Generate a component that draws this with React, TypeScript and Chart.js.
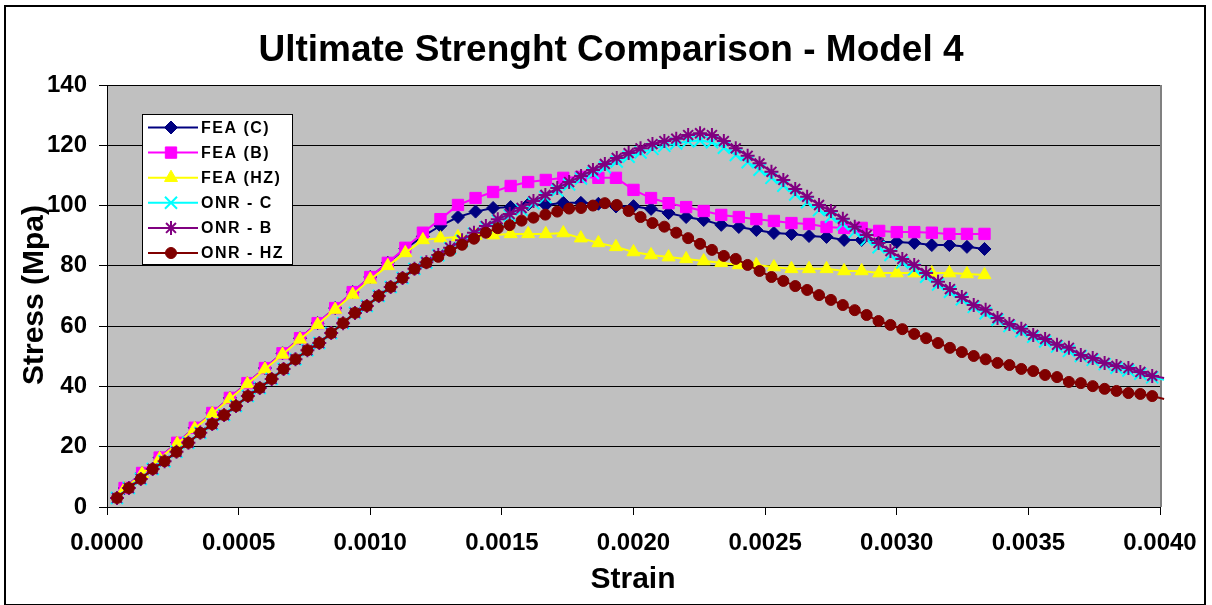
import React, { useEffect, useRef } from 'react';
import { Chart, registerables } from 'chart.js';
import { drawPoint } from 'chart.js/helpers';

Chart.register(...registerables);

const FONT = '"Liberation Sans", Arial, Helvetica, sans-serif';

const chartTitle = 'Ultimate Strenght Comparison - Model 4';
const xAxisTitle = 'Strain';
const yAxisTitle = 'Stress (Mpa)';

const xTickValues = [0, 0.0005, 0.001, 0.0015, 0.002, 0.0025, 0.003, 0.0035, 0.004];
const xTickLabels = ['0.0000', '0.0005', '0.0010', '0.0015', '0.0020', '0.0025', '0.0030', '0.0035', '0.0040'];
const yTickValues = [0, 20, 40, 60, 80, 100, 120, 140];
const yTickLabels = ['0', '20', '40', '60', '80', '100', '120', '140'];

const seriesNames = ['FEA (C)', 'FEA (B)', 'FEA (HZ)', 'ONR - C', 'ONR - B', 'ONR - HZ'];

// FEA strain steps
const feaStrain = [
  0.0000667, 0.0001333, 0.0002, 0.0002667, 0.0003333, 0.0004, 0.0004667, 0.0005333, 0.0006, 0.0006667,
  0.0007333, 0.0008, 0.0008667, 0.0009333, 0.001, 0.0010667, 0.0011333, 0.0012, 0.0012667, 0.0013333,
  0.0014, 0.0014667, 0.0015333, 0.0016, 0.0016667, 0.0017333, 0.0018, 0.0018667, 0.0019333, 0.002,
  0.0020667, 0.0021333, 0.0022, 0.0022667, 0.0023333, 0.0024, 0.0024667, 0.0025333, 0.0026, 0.0026667,
  0.0027333, 0.0028, 0.0028667, 0.0029333, 0.003, 0.0030667, 0.0031333, 0.0032, 0.0032667, 0.0033333,
];

const feaC = [
  6.3, 11.3, 16.4, 21.3, 26.3, 31.2, 36.2, 41.1, 46.1, 51,
  56, 61, 66, 71.3, 76.3, 81, 85.7, 89.8, 93.3, 96.2,
  98, 99.2, 99.5, 100.4, 100.2, 100.9, 100.9, 100.6, 99.7, 99.8,
  98.9, 97.5, 96.2, 95.2, 93.6, 92.9, 91.9, 90.9, 90.6, 89.9,
  89.6, 88.6, 88.6, 87.9, 87.9, 87.6, 86.9, 86.9, 86.3, 85.6,
];

const feaB = [
  6.3, 11.3, 16.4, 21.3, 26.3, 31.2, 36.2, 41.1, 46.1, 51,
  56, 61, 66, 71.3, 76.3, 81, 86, 91, 95.5, 100.2,
  102.5, 104.5, 106.5, 107.8, 108.5, 109.2, 109.5, 109.2, 109.2, 105.2,
  102.5, 100.8, 99.5, 98.2, 96.9, 96.2, 95.5, 94.9, 94.2, 93.9,
  92.9, 92.6, 92.6, 91.6, 91.2, 91.2, 91, 90.6, 90.6, 90.6,
];

const feaHZ = [
  6.0, 11.0, 16.0, 21.0, 26.0, 30.9, 35.8, 40.8, 45.7, 50.6,
  55.6, 60.5, 65.5, 70.5, 75.5, 80, 84.3, 88.6, 89.2, 89.6,
  90, 90.2, 90.6, 90.6, 90.6, 90.9, 89.2, 87.6, 86.3, 84.6,
  83.6, 82.9, 82.3, 81.6, 81, 80.3, 80.3, 79.6, 79, 79,
  79, 78.3, 78.3, 77.6, 77.6, 77.6, 77.6, 77.6, 77.3, 77,
];

// ONR strain steps, in microstrain
const onrStrainMicro = [
  38, 83.2, 128.4, 173.6, 218.8, 264, 309.2, 354.4, 399.6, 444.8,
  490, 535.2, 580.4, 625.6, 670.8, 716, 761.2, 806.4, 851.6, 896.8,
  942, 987.2, 1032.4, 1077.6, 1122.8, 1168, 1213.2, 1258.4, 1303.6, 1348.8,
  1394, 1439.2, 1484.4, 1529.6, 1574.8, 1620, 1665.2, 1710.4, 1755.6, 1800.8,
  1846, 1891.2, 1936.4, 1981.6, 2026.8, 2072, 2117.2, 2162.4, 2207.6, 2252.8,
  2298, 2343.2, 2388.4, 2433.6, 2478.8, 2524, 2569.2, 2614.4, 2659.6, 2704.8,
  2750, 2795.2, 2840.4, 2885.6, 2930.8, 2976, 3021.2, 3066.4, 3111.6, 3156.8,
  3202, 3247.2, 3292.4, 3337.6, 3382.8, 3428, 3473.2, 3518.4, 3563.6, 3608.8,
  3654, 3699.2, 3744.4, 3789.6, 3834.8, 3880, 3925.2, 3970.4, 4015.6,
];

const onrC = [
  3.0, 6.3, 9.3, 12.6, 15.2, 18.3, 21.3, 24.6, 27.5, 30.5,
  33.5, 36.8, 39.5, 42.5, 45.8, 49, 52, 54.4, 57.7, 61,
  64.4, 66.7, 70, 73, 76, 79, 81.1, 83.5, 85.9, 88.3,
  90.7, 92.8, 95, 96.7, 98.6, 100.8, 102.8, 105, 107, 109,
  110.8, 112.7, 114.6, 116.2, 117.6, 118.8, 119.8, 120.6, 121.3, 121.6,
  121, 119.2, 116.8, 114.4, 111.9, 109.2, 106.6, 103.7, 101.1, 98.5,
  96.3, 93.8, 91.3, 88.7, 86.2, 83.6, 81.1, 78.9, 76.4, 73.8,
  71.4, 68.9, 66.4, 64.3, 62.1, 60, 58.3, 56.5, 54.9, 53.2,
  51.8, 50.1, 48.8, 47.4, 46.2, 45.3, 44.2, 43, 42.2,
];

const onrB = [
  3.0, 6.3, 9.3, 12.6, 15.2, 18.3, 21.3, 24.6, 27.5, 30.5,
  33.5, 36.8, 39.5, 42.5, 45.8, 49, 52, 54.4, 57.7, 61,
  64.4, 66.7, 70, 73, 76, 79, 81.2, 83.6, 86, 88.5,
  91, 93.2, 95.5, 97.2, 99.2, 101.5, 103.5, 105.8, 107.8, 109.8,
  111.8, 113.8, 115.8, 117.4, 119, 120.4, 121.4, 122.2, 123.4, 124,
  123.4, 121.4, 119, 116.5, 114, 111.2, 108.5, 105.5, 102.9, 100.2,
  98.2, 95.6, 93, 90.2, 87.6, 84.9, 82.3, 80.3, 77.6, 74.7,
  72.3, 69.7, 67, 65.4, 62.7, 60.7, 59.1, 57.1, 55.7, 53.8,
  52.8, 50.4, 49.4, 47.8, 46.8, 46.1, 44.8, 43.5, 42.8,
];

const onrHZ = [
  3.0, 6.3, 9.3, 12.6, 15.2, 18.3, 21.3, 24.6, 27.5, 30.5,
  33.5, 36.8, 39.5, 42.5, 45.8, 49, 52, 54.4, 57.7, 61,
  64.4, 66.7, 70, 73, 76, 79, 81, 83, 85, 87,
  89, 91, 92.5, 93.5, 95, 96, 97, 98, 99, 99.2,
  100, 100.8, 100.2, 98.2, 96.2, 94.2, 93, 91, 89.2, 87.3,
  85.3, 83.3, 82.3, 80.3, 78.3, 76.3, 75, 73.3, 72, 70.3,
  68.7, 67, 65.3, 63.7, 61.7, 60.4, 59, 57.4, 56, 54.4,
  52.8, 51.4, 50.1, 49, 47.8, 47.1, 45.8, 45.1, 43.8, 43.1,
  41.5, 41.1, 40.1, 39.2, 38.5, 37.8, 37.5, 36.8, 35.8,
];

type Style = { color: string; pointStyle: string; radius: number; fill: boolean; markerLine: number };
const styles: Style[] = [
  { color: '#000080', pointStyle: 'rectRot', radius: 6.5, fill: true, markerLine: 1 },
  { color: '#FF00FF', pointStyle: 'rect', radius: 8, fill: true, markerLine: 1 },
  { color: '#FFFF00', pointStyle: 'triangle', radius: 7.5, fill: true, markerLine: 1 },
  { color: '#00FFFF', pointStyle: 'crossRot', radius: 8.5, fill: false, markerLine: 2 },
  { color: '#800080', pointStyle: 'star', radius: 7, fill: false, markerLine: 2 },
  { color: '#800000', pointStyle: 'circle', radius: 5.5, fill: true, markerLine: 1 },
];

function pts(xs: number[], ys: number[], scale: number) {
  return ys.map((y, i) => ({ x: xs[i] * scale, y }));
}

const CHART_LEFT = 103;
const CHART_RIGHT = 1156;
const CHART_TOP = 80;
const CHART_BOTTOM = 502;
const W = 1202;
const H = 601;

const decor = {
  id: 'decor',
  beforeDraw(chart: any) {
    const { ctx, width, height, chartArea: a } = chart;
    ctx.save();
    ctx.fillStyle = '#ffffff';
    ctx.fillRect(0, 0, width, height);
    ctx.fillStyle = '#C0C0C0';
    ctx.fillRect(a.left, a.top, a.right - a.left, a.bottom - a.top);
    ctx.restore();
  },
  beforeDatasetsDraw(chart: any) {
    const { ctx, chartArea: a } = chart;
    ctx.save();
    ctx.strokeStyle = '#808080';
    ctx.lineWidth = 2;
    ctx.beginPath();
    ctx.moveTo(a.right + 1, a.top);
    ctx.lineTo(a.right + 1, a.bottom);
    ctx.stroke();
    ctx.restore();
  },
  afterDraw(chart: any) {
    const { ctx, width, height } = chart;
    ctx.save();
    ctx.fillStyle = '#000';
    // title
    ctx.font = `bold 37px ${FONT}`;
    ctx.textAlign = 'center';
    ctx.textBaseline = 'alphabetic';
    ctx.fillText(chartTitle, 607, 56);
    // x title
    ctx.font = `bold 30px ${FONT}`;
    ctx.fillText(xAxisTitle, 629, 583);
    // y title
    ctx.save();
    ctx.translate(39, 290);
    ctx.rotate(-Math.PI / 2);
    ctx.fillText(yAxisTitle, 0, 0);
    ctx.restore();

    // legend
    const bx = 138, by = 109, bw = 150, bh = 150;
    ctx.fillStyle = '#ffffff';
    ctx.fillRect(bx, by, bw, bh);
    ctx.strokeStyle = '#000';
    ctx.lineWidth = 1;
    ctx.strokeRect(bx + 0.5, by + 0.5, bw, bh);
    seriesNames.forEach((name, i) => {
      const s = styles[i];
      const y = 122.5 + i * 25.1;
      ctx.strokeStyle = s.color;
      ctx.lineWidth = 2;
      ctx.beginPath();
      ctx.moveTo(144, y);
      ctx.lineTo(194, y);
      ctx.stroke();
      ctx.fillStyle = s.color;
      ctx.lineWidth = s.markerLine;
      drawPoint(ctx, { pointStyle: s.pointStyle as any, radius: s.radius, rotation: 0, borderWidth: s.markerLine }, 167, y);
      ctx.fillStyle = '#000';
      ctx.font = `bold 16px ${FONT}`;
      (ctx as any).letterSpacing = '1.5px';
      ctx.textAlign = 'left';
      ctx.textBaseline = 'middle';
      ctx.fillText(name, 197, y + 1);
      (ctx as any).letterSpacing = '0px';
    });

    // outer frame
    ctx.strokeStyle = '#000';
    ctx.lineWidth = 2;
    ctx.strokeRect(1, 1, width - 2, height - 2);
    ctx.restore();
  },
};

export default function App() {
  const ref = useRef<HTMLCanvasElement | null>(null);
  useEffect(() => {
    if (!ref.current) return;
    const seriesData = [
      pts(feaStrain, feaC, 1),
      pts(feaStrain, feaB, 1),
      pts(feaStrain, feaHZ, 1),
      pts(onrStrainMicro, onrC, 1e-6),
      pts(onrStrainMicro, onrB, 1e-6),
      pts(onrStrainMicro, onrHZ, 1e-6),
    ];
    const datasets = seriesNames.map((name, i) => {
      const s = styles[i];
      const n = seriesData[i].length;
      const isOnr = i >= 3;
      return {
        label: name,
        data: seriesData[i],
        showLine: true,
        borderColor: s.color,
        backgroundColor: s.color,
        borderWidth: 2,
        pointStyle: s.pointStyle,
        pointRadius: (c: any) => (isOnr && c.dataIndex === n - 1 ? 0 : s.radius),
        pointBorderWidth: s.markerLine,
        pointBackgroundColor: s.color,
        pointBorderColor: s.color,
        tension: 0,
        order: 5 - i,
        clip: isOnr ? false : undefined,
      };
    });
    const chart = new Chart(ref.current, {
      type: 'scatter',
      data: { datasets: datasets as any },
      plugins: [decor],
      options: {
        animation: false,
        responsive: false,
        events: [],
        layout: { padding: { top: CHART_TOP, right: W - CHART_RIGHT, left: 0, bottom: 0 } },
        plugins: { legend: { display: false }, title: { display: false }, tooltip: { enabled: false } },
        scales: {
          x: {
            type: 'linear',
            min: 0,
            max: 0.004,
            afterBuildTicks: (axis: any) => {
              axis.ticks = xTickValues.map((v) => ({ value: v }));
            },
            afterFit: (scale: any) => {
              scale.height = H - CHART_BOTTOM;
              scale.paddingLeft = 0;
              scale.paddingRight = 0;
            },
            ticks: {
              autoSkip: false,
              maxRotation: 0,
              padding: 14,
              color: '#000',
              font: { family: FONT, size: 24, weight: 'bold' },
              callback: (_v: any, i: number) => xTickLabels[i],
            },
            grid: { drawOnChartArea: false, drawTicks: true, tickLength: 8, color: '#000', lineWidth: 1 },
            border: { color: '#000', width: 1 },
          },
          y: {
            type: 'linear',
            min: 0,
            max: 140,
            afterBuildTicks: (axis: any) => {
              axis.ticks = yTickValues.map((v) => ({ value: v }));
            },
            afterFit: (scale: any) => {
              scale.width = CHART_LEFT;
              scale.paddingTop = 0;
              scale.paddingBottom = 0;
            },
            ticks: {
              padding: 12,
              color: '#000',
              font: { family: FONT, size: 24, weight: 'bold' },
              callback: (_v: any, i: number) => yTickLabels[i],
            },
            grid: { color: '#000', lineWidth: 1, tickLength: 8 },
            border: { color: '#000', width: 1 },
          },
        },
      } as any,
    });
    return () => chart.destroy();
  }, []);
  return (
    <div style={{ position: 'absolute', left: 4, top: 5, width: W, height: H }}>
      <canvas ref={ref} width={W} height={H} style={{ display: 'block', width: W, height: H }} />
    </div>
  );
}
